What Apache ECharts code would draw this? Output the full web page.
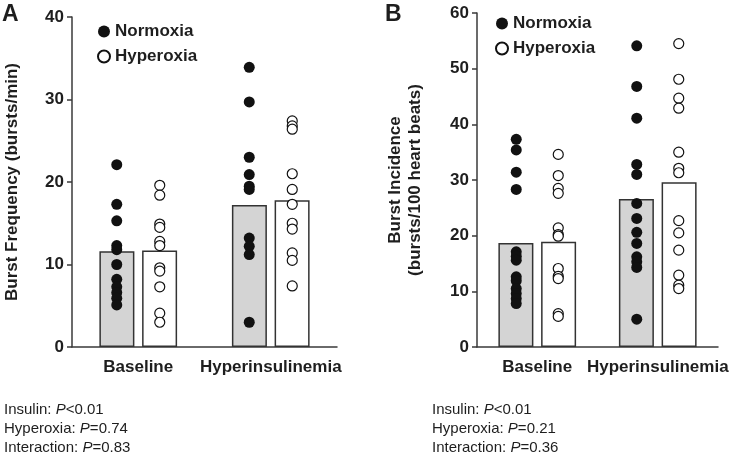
<!DOCTYPE html>
<html>
<head>
<meta charset="utf-8">
<script src="https://cdn.jsdelivr.net/npm/echarts@6/dist/echarts.min.js"></script>
<style>
html,body{margin:0;padding:0;background:#fff;}
#chart{width:739px;height:458px;}
</style>
</head>
<body>
<div id="chart"></div>
<script>
// ---- data ----
const categories = ['Baseline', 'Hyperinsulinemia'];

// Panel A: Burst Frequency (bursts/min)
const barA_normoxia = [11.6, 17.2];
const barA_hyperoxia = [11.7, 17.8];
const dotsA_normoxia_baseline = [22.1, 17.3, 15.3, 12.3, 11.8, 10.0, 8.2, 7.3, 6.6, 5.9, 5.1];
const dotsA_normoxia_hyper = [33.9, 29.7, 23.0, 20.9, 19.5, 19.1, 13.2, 12.2, 11.2, 3.0];
const dotsA_hyperoxia_baseline = [19.6, 18.4, 14.9, 14.5, 12.8, 12.3, 9.6, 9.2, 7.3, 4.1, 3.0];
const dotsA_hyperoxia_hyper = [27.4, 26.8, 26.4, 21.0, 19.1, 17.3, 15.0, 14.3, 11.4, 10.5, 7.4];

// Panel B: Burst Incidence (bursts/100 heart beats)
const barB_normoxia = [18.7, 26.6];
const barB_hyperoxia = [18.9, 29.6];
const dotsB_normoxia_baseline = [37.3, 35.4, 31.4, 28.3, 17.1, 16.3, 15.6, 12.6, 11.9, 10.5, 9.6, 8.7, 7.8];
const dotsB_normoxia_hyper = [54.1, 46.8, 41.1, 32.8, 31.0, 25.8, 23.1, 20.6, 18.6, 16.2, 15.3, 14.3, 5.0];
const dotsB_hyperoxia_baseline = [34.6, 30.8, 28.5, 27.6, 21.4, 20.2, 19.9, 14.1, 12.7, 12.3, 6.0, 5.5];
const dotsB_hyperoxia_hyper = [54.5, 48.1, 44.7, 42.9, 35.0, 32.1, 31.3, 22.7, 20.5, 17.4, 12.9, 11.1, 10.5];

const statsA = [['Insulin: ', '<0.01'], ['Hyperoxia: ', '=0.74'], ['Interaction: ', '=0.83']];
const statsB = [['Insulin: ', '<0.01'], ['Hyperoxia: ', '=0.21'], ['Interaction: ', '=0.36']];

// ---- styles ----
const FONT = '"Liberation Sans", Arial, sans-serif';
const AX = '#3a3a3a';
const TXT = '#1e1e1e';

function pts(base, hyper) {
  return base.map(v => [categories[0], v]).concat(hyper.map(v => [categories[1], v]));
}

function xAxisFor(idx) {
  return {
    type: 'category', gridIndex: idx, data: categories,
    axisLine: {lineStyle: {color: AX, width: 1.5}},
    axisTick: {show: false},
    axisLabel: {interval: 0, hideOverlap: false, fontFamily: FONT, fontWeight: 'bold', fontSize: 17, color: TXT, margin: 12}
  };
}
function yAxisFor(idx, max, name, nameGap) {
  return {
    type: 'value', gridIndex: idx, min: 0, max: max, interval: 10,
    name: name, nameLocation: 'middle', nameGap: nameGap,
    nameTextStyle: {fontFamily: FONT, fontWeight: 'bold', fontSize: 17, color: TXT, lineHeight: 20},
    axisLine: {show: true, lineStyle: {color: AX, width: 1.5}},
    axisTick: {show: true, length: 5, lineStyle: {color: AX, width: 1.5}},
    splitLine: {show: false},
    axisLabel: {fontFamily: FONT, fontWeight: 'bold', fontSize: 17, color: TXT, margin: 8}
  };
}
function bars(idx, normData, hypData) {
  return [
    {type: 'bar', name: 'NormoxiaBar', xAxisIndex: idx, yAxisIndex: idx, data: normData,
     barWidth: 35, barGap: '22%', silent: true,
     itemStyle: {color: '#d4d4d4', borderColor: '#333', borderWidth: 1.5}},
    {type: 'bar', name: 'HyperoxiaBar', xAxisIndex: idx, yAxisIndex: idx, data: hypData,
     barWidth: 35, barGap: '22%', silent: true,
     itemStyle: {color: '#ffffff', borderColor: '#333', borderWidth: 1.5}}
  ];
}
function dots(idx, name, data, off, filled) {
  return {
    type: 'scatter', name: name, xAxisIndex: idx, yAxisIndex: idx, data: data,
    symbol: 'circle', symbolSize: filled ? 11 : 10, symbolOffset: [off, 0], z: 5,
    itemStyle: filled ? {color: '#111', borderColor: '#111', borderWidth: 0, opacity: 1}
                      : {color: '#fff', borderColor: '#111', borderWidth: 1.2, opacity: 1}
  };
}
function legendAt(left, top) {
  return {
    left: left, top: top, orient: 'vertical', itemGap: 8, itemWidth: 12, itemHeight: 12,
    icon: 'circle', data: ['Normoxia', 'Hyperoxia'],
    textStyle: {fontFamily: FONT, fontWeight: 'bold', fontSize: 17, color: TXT}
  };
}
function statsText(x, y, rows) {
  return rows.map((r, i) => ({
    type: 'text', left: x, top: y + i * 19,
    style: {
      rich: {
        n: {fontFamily: '"Liberation Sans Narrow", "Liberation Sans", Arial, sans-serif', fontSize: 15, fill: TXT},
        i: {fontFamily: '"Liberation Sans Narrow", "Liberation Sans", Arial, sans-serif', fontSize: 15, fontStyle: 'italic', fill: TXT}
      },
      text: '{n|' + r[0] + '}{i|P}{n|' + r[1] + '}'
    }
  }));
}

const chart = echarts.init(document.getElementById('chart'), null, {renderer: 'canvas'});
chart.setOption({
  animation: false,
  backgroundColor: '#fff',
  grid: [
    {left: 72, right: 402, top: 17, bottom: 111},
    {left: 477, right: 21, top: 13, bottom: 111}
  ],
  xAxis: [xAxisFor(0), xAxisFor(1)],
  yAxis: [
    yAxisFor(0, 40, 'Burst Frequency (bursts/min)', 50),
    yAxisFor(1, 60, 'Burst Incidence\n(bursts/100 heart beats)', 52)
  ],
  legend: [legendAt(92, 18), legendAt(490, 10)],
  series: [].concat(
    bars(0, barA_normoxia, barA_hyperoxia),
    bars(1, barB_normoxia, barB_hyperoxia),
    [
      dots(0, 'Normoxia', pts(dotsA_normoxia_baseline, dotsA_normoxia_hyper), -21.5, true),
      dots(0, 'Hyperoxia', pts(dotsA_hyperoxia_baseline, dotsA_hyperoxia_hyper), 21.5, false),
      dots(1, 'Normoxia', pts(dotsB_normoxia_baseline, dotsB_normoxia_hyper), -21, true),
      dots(1, 'Hyperoxia', pts(dotsB_hyperoxia_baseline, dotsB_hyperoxia_hyper), 21, false)
    ]
  ),
  graphic: [
    {type: 'text', left: 2, top: 3, style: {text: 'A', fontFamily: FONT, fontWeight: 'bold', fontSize: 23, fill: TXT}},
    {type: 'text', left: 385, top: 3, style: {text: 'B', fontFamily: FONT, fontWeight: 'bold', fontSize: 23, fill: TXT}}
  ].concat(statsText(4, 402, statsA), statsText(432, 402, statsB))
});
</script>
</body>
</html>
